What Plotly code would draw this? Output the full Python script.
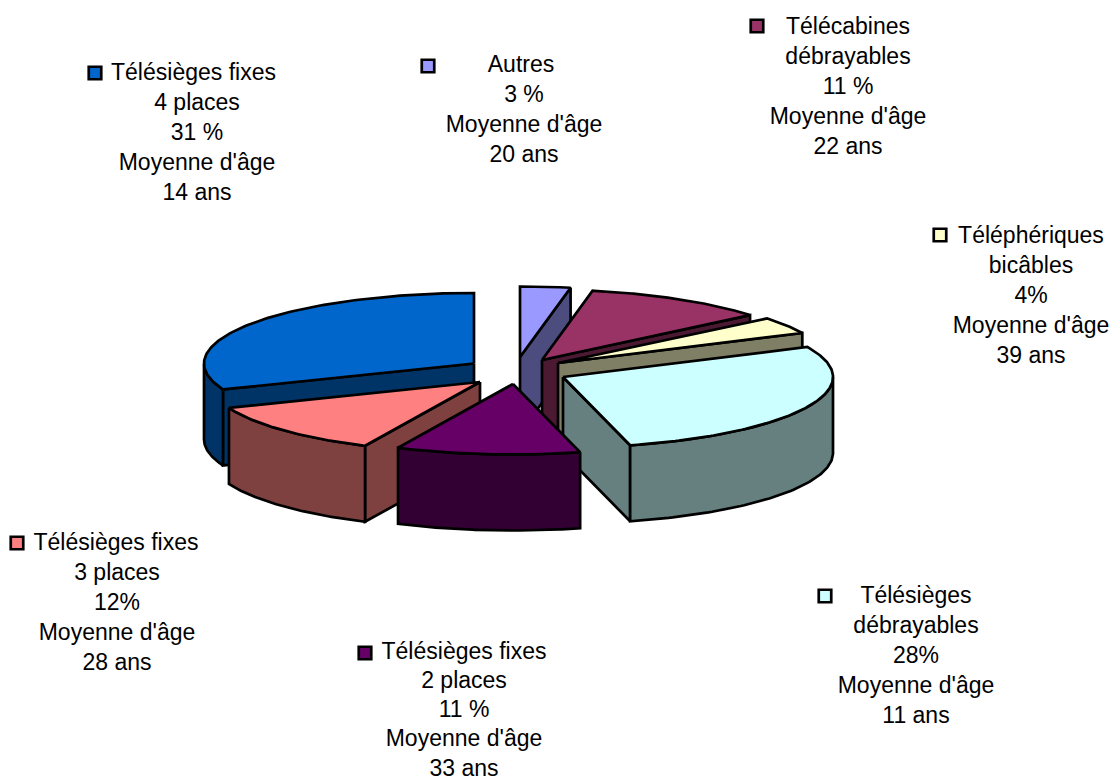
import numpy as np
import plotly.graph_objects as go

# ---- data (clockwise from 12 o'clock) ----
categories = ["Autres", "Télécabines débrayables", "Téléphériques bicâbles",
              "Télésièges débrayables", "Télésièges fixes 2 places",
              "Télésièges fixes 3 places", "Télésièges fixes 4 places"]
shares = [3, 11, 4, 28, 11, 12, 31]
ages = [20, 22, 39, 11, 33, 28, 14]
top_colors = ["#9999FF", "#993366", "#FFFFCC", "#CCFFFF", "#660066", "#FF8080", "#0066CC"]
side_colors = ["#4C4C7F", "#4C1933", "#7F7F66", "#667F7F", "#330033", "#7F4040", "#003366"]
label_lines = [
    ["Autres", "3 %", "Moyenne d'âge", "20 ans"],
    ["Télécabines", "débrayables", "11 %", "Moyenne d'âge", "22 ans"],
    ["Téléphériques", "bicâbles", "4%", "Moyenne d'âge", "39 ans"],
    ["Télésièges", "débrayables", "28%", "Moyenne d'âge", "11 ans"],
    ["Télésièges fixes", "2 places", "11 %", "Moyenne d'âge", "33 ans"],
    ["Télésièges fixes", "3 places", "12%", "Moyenne d'âge", "28 ans"],
    ["Télésièges fixes", "4 places", "31 %", "Moyenne d'âge", "14 ans"],
]

# ---- layout of the drawing ----
W, H = 1112, 782
RX, RY, DEPTH = 270, 70.5, 76
apex_x = [520, 542, 558, 563, 513, 480, 474]
apex_y = [357, 360, 363, 377, 384, 382, 363.5]
paint_order = [0, 6, 1, 2, 3, 5, 4]
label_x = [524, 848, 1031, 916, 464, 117, 197]
first_line_x = [521, 848, 1031, 916, 464, 116, 193.5]
label_y = [66, 28, 237, 597, 653, 544, 74]
line_steps = [30.1, 30.1, 30.1, 30.1, 29.2, 30.1, 30.1]
key_x = [428, 757, 940, 825, 365, 17, 95]
key_y = [66, 26, 235, 596, 653, 543, 73]
FONT = "Liberation Sans"
TEXT_SIZE = 23
LINE_W = 2.7

fracs = np.cumsum([0] + shares) / sum(shares) * 2 * np.pi
fig = go.Figure()


def poly(xs, ys, color):
    fig.add_trace(go.Scatter(x=np.append(xs, xs[0]), y=np.append(ys, ys[0]), mode="lines",
                             fill="toself", fillcolor=color,
                             line=dict(color="black", width=LINE_W, shape="linear"),
                             hoverinfo="skip", showlegend=False))


def rim(cx, cy, a):
    return cx + RX * np.sin(a), cy - RY * np.cos(a)


for i in paint_order:
    a0, a1 = fracs[i], fracs[i + 1]
    cx, cy = apex_x[i], apex_y[i]
    # radial wall that faces the viewer
    for a, visible in ((a0, np.sin(a0) < -1e-6), (a1, np.sin(a1) > 1e-6)):
        if visible:
            ex, ey = rim(cx, cy, a)
            poly(np.array([cx, ex, ex, cx]), np.array([cy, ey, ey + DEPTH, cy + DEPTH]), side_colors[i])
    # outer wall: only the front part of the arc
    lo, hi = max(a0, np.pi / 2), a1
    if lo < np.pi * 1.5 and hi > lo:
        hi = min(hi, np.pi * 1.5)
        t = np.linspace(lo, hi, 80)
        ax, ay = rim(cx, cy, t)
        poly(np.r_[ax, ax[::-1]], np.r_[ay, ay[::-1] + DEPTH], side_colors[i])
    # top face
    t = np.linspace(a0, a1, 120)
    ax, ay = rim(cx, cy, t)
    poly(np.r_[cx, ax], np.r_[cy, ay], top_colors[i])

# labels and legend keys
for i, lines in enumerate(label_lines):
    xs = [first_line_x[i]] + [label_x[i]] * (len(lines) - 1)
    ys = [label_y[i] + k * line_steps[i] for k in range(len(lines))]
    fig.add_trace(go.Scatter(x=xs, y=ys, mode="text", text=lines, textposition="middle center",
                             textfont=dict(family=FONT, size=TEXT_SIZE, color="black"),
                             hoverinfo="skip", showlegend=False))
    fig.add_trace(go.Scatter(x=[key_x[i]], y=[key_y[i]], mode="markers", name=categories[i],
                             marker=dict(symbol="square", size=12.5, color=top_colors[i],
                                         line=dict(color="black", width=2.7)),
                             hoverinfo="skip", showlegend=False))

fig.update_layout(width=W, height=H, margin=dict(l=0, r=0, t=0, b=0),
                  paper_bgcolor="white", plot_bgcolor="white",
                  xaxis=dict(range=[0, W], visible=False, fixedrange=True),
                  yaxis=dict(range=[H, 0], visible=False, fixedrange=True))
fig.write_html("out.html", config={"displayModeBar": False},
               post_script="document.body.style.margin='0';document.documentElement.style.overflow='hidden';")
